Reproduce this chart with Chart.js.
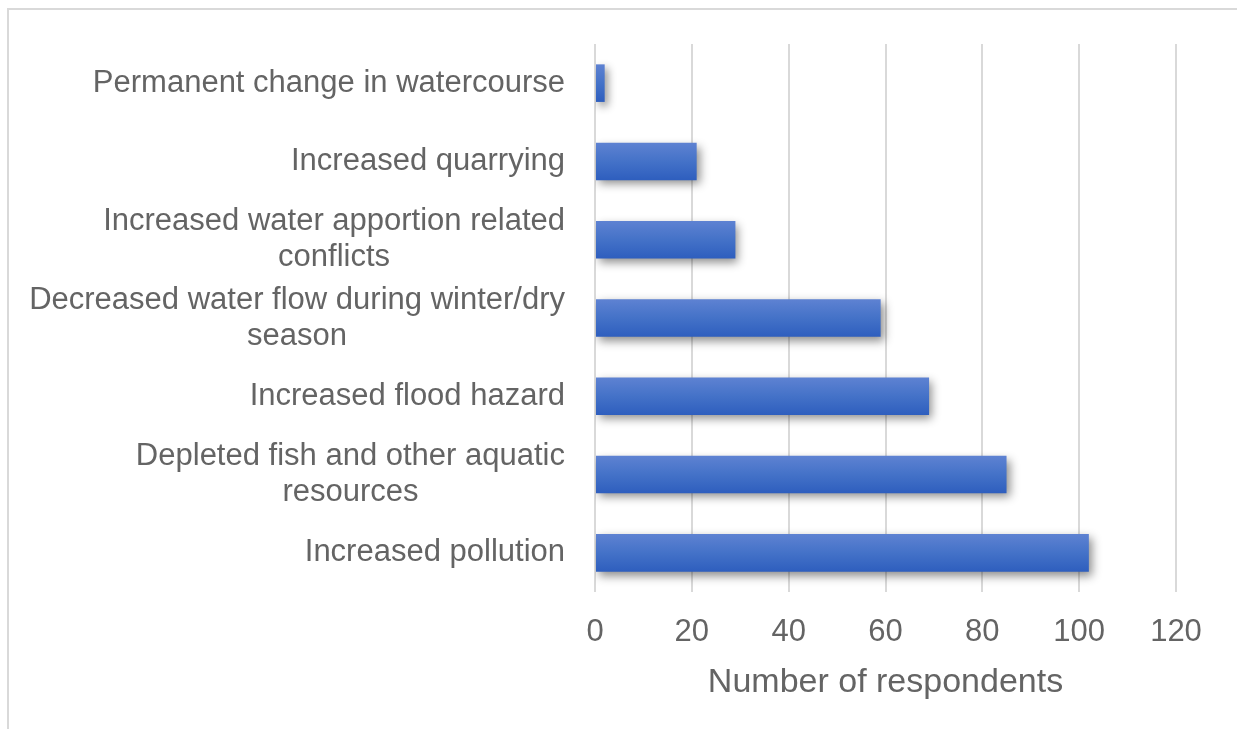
<!DOCTYPE html>
<html>
<head>
<meta charset="utf-8">
<script src="https://cdn.jsdelivr.net/npm/chart.js@4"></script>
<style>
  html, body { margin: 0; padding: 0; background: #fff; overflow: hidden; }
  #frame { position: absolute; left: 7px; top: 8px; width: 1250px; height: 740px; border: 2px solid #d9d9d9; box-sizing: border-box; }
  #wrap { position: absolute; left: 0; top: 0; width: 1237px; height: 729px; }
</style>
</head>
<body>
<div id="frame"></div>
<div id="wrap"><canvas id="chart1"></canvas></div>
<script>
// categories, top to bottom as drawn
var categories = [
    ["Permanent change in watercourse"],
    ["Increased quarrying"],
    ["Increased water apportion related", "conflicts"],
    ["Decreased water flow during winter/dry", "season"],
    ["Increased flood hazard"],
    ["Depleted fish and other aquatic", "resources"],
    ["Increased pollution"]
];
var respondents = [2, 21, 29, 59, 69, 85, 102];
var xTicks = [0, 20, 40, 60, 80, 100, 120];

var fontFam = "'Liberation Sans', Arial, sans-serif";
var grey = "#646464";
var barPct = 0.48;

// vertical gradient per bar, worked out from the y scale
function barFill(c){
    var chart = c.chart;
    var y = chart.scales.y;
    if (!chart.chartArea || !y || c.dataIndex === undefined) return "#4472c4";
    var mid = y.getPixelForValue(c.dataIndex);
    var half = Math.abs(y.getPixelForValue(1) - y.getPixelForValue(0)) * barPct / 2;
    var g = chart.ctx.createLinearGradient(0, mid - half, 0, mid + half);
    g.addColorStop(0, "#5e82d2");
    g.addColorStop(0.5, "#4472c8");
    g.addColorStop(1, "#2e5ebe");
    return g;
}

// soft shadow under the bars
var barShadow = {
    id: "barShadow",
    beforeDatasetsDraw: function(chart){
        var ctx = chart.ctx;
        ctx.save();
        ctx.shadowColor = "rgba(0,0,0,0.45)";
        ctx.shadowBlur = 9;
        ctx.shadowOffsetX = 3;
        ctx.shadowOffsetY = 4;
    },
    afterDatasetsDraw: function(chart){
        chart.ctx.restore();
    }
};

// category labels: block right aligned, lines centred on each other
var catLabels = {
    id: "catLabels",
    afterDraw: function(chart){
        var ctx = chart.ctx;
        var y = chart.scales.y;
        var right = chart.chartArea.left - 30;
        var lh = 36;
        ctx.save();
        ctx.font = "31px " + fontFam;
        ctx.fillStyle = grey;
        ctx.textAlign = "center";
        ctx.textBaseline = "middle";
        categories.forEach(function(lines, i){
            var w = 0;
            lines.forEach(function(l){ w = Math.max(w, ctx.measureText(l).width); });
            var cx = right - w / 2;
            var cy = y.getPixelForValue(i) - (lines.length - 1) * lh / 2;
            lines.forEach(function(l, k){
                ctx.fillText(l, cx, cy + k * lh);
            });
        });
        ctx.restore();
    }
};

var ctx = document.getElementById("chart1");
var myChart = new Chart(ctx, {
    type: "bar",
    data: {
        labels: categories.map(function(c){ return c.join(" "); }),
        datasets: [{
            data: respondents,
            backgroundColor: barFill,
            borderWidth: 0,
            categoryPercentage: 1,
            barPercentage: barPct
        }]
    },
    options: {
        indexAxis: "y",
        responsive: true,
        maintainAspectRatio: false,
        animation: false,
        layout: { padding: { left: 587, right: 61, top: 44, bottom: 26 } },
        plugins: { legend: { display: false }, tooltip: { enabled: false } },
        scales: {
            x: {
                min: 0, max: 120,
                afterBuildTicks: function(s){ s.ticks = xTicks.map(function(v){ return { value: v }; }); },
                grid: { color: "#d9d9d9", lineWidth: 2, drawTicks: false },
                border: { display: false },
                ticks: { color: grey, font: { family: fontFam, size: 31 }, padding: 22 },
                title: { display: true, text: "Number of respondents", color: grey,
                         font: { family: fontFam, size: 34 }, padding: { top: -11, bottom: 0 } }
            },
            y: {
                grid: { display: false },
                border: { display: false },
                ticks: { display: false }
            }
        }
    },
    plugins: [barShadow, catLabels]
});
</script>
</body>
</html>
